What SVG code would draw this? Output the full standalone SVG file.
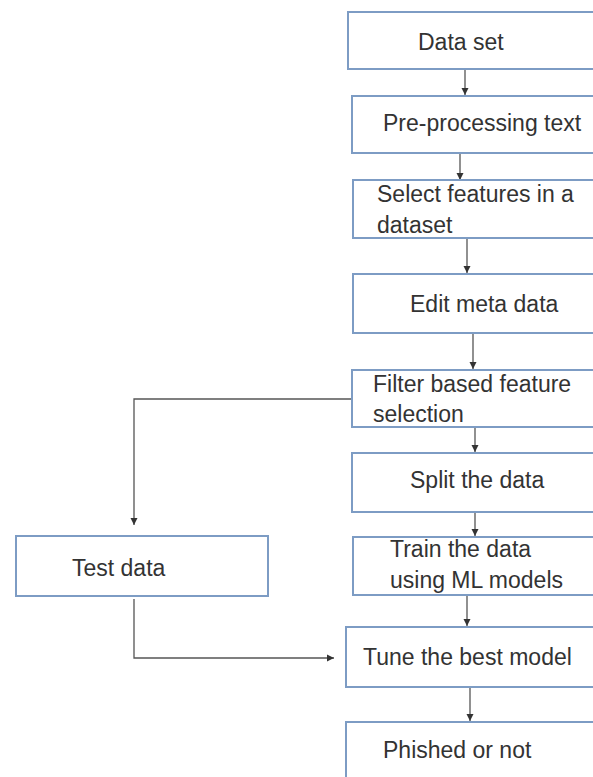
<svg xmlns="http://www.w3.org/2000/svg" width="593" height="777" viewBox="0 0 593 777">
<defs>
<marker id="ah" markerWidth="8" markerHeight="8" refX="7" refY="4" orient="auto" markerUnits="userSpaceOnUse">
<path d="M0,0.5 L7,4 L0,7.5 Z" fill="#333"/>
</marker>
</defs>
<style>
.box{fill:#fff;stroke:#7d9cc4;stroke-width:2}
.t{font-family:"Liberation Sans",Arial,sans-serif;font-size:23px;fill:#333}
.c{fill:none;stroke:#555;stroke-width:1.3;marker-end:url(#ah)}
</style>
<rect width="593" height="777" fill="#fff"/>
<g id="connectors">
<path class="c" d="M465,69 V95"/>
<path class="c" d="M460,153 V180"/>
<path class="c" d="M467,238 V273"/>
<path class="c" d="M473,333 V369"/>
<path class="c" d="M475,427 V452"/>
<path class="c" d="M475,512 V536"/>
<path class="c" d="M467,595 V626"/>
<path class="c" d="M470,687 V721"/>
<path class="c" d="M352,399 H134 V525"/>
<path class="c" d="M134,599 V658 H334"/>
</g>
<g id="n1"><rect class="box" x="348" y="12" width="260" height="57"/><text class="t" x="418" y="50">Data set</text></g>
<g id="n2"><rect class="box" x="352" y="96" width="256" height="57"/><text class="t" x="383" y="131">Pre-processing text</text></g>
<g id="n3"><rect class="box" x="353" y="180" width="255" height="58"/><text class="t" x="377" y="202">Select features in a</text><text class="t" x="377" y="233">dataset</text></g>
<g id="n4"><rect class="box" x="353" y="274" width="255" height="59"/><text class="t" x="410" y="312">Edit meta data</text></g>
<g id="n5"><rect class="box" x="352" y="370" width="256" height="57"/><text class="t" x="373" y="392">Filter based feature</text><text class="t" x="373" y="422">selection</text></g>
<g id="n6"><rect class="box" x="352" y="453" width="256" height="59"/><text class="t" x="410" y="488">Split the data</text></g>
<g id="n7"><rect class="box" x="353" y="537" width="255" height="58"/><text class="t" x="390" y="557">Train the data</text><text class="t" x="390" y="588">using ML models</text></g>
<g id="n8"><rect class="box" x="346" y="627" width="262" height="60"/><text class="t" x="363" y="665">Tune the best model</text></g>
<g id="n9"><rect class="box" x="346" y="722" width="262" height="80"/><text class="t" x="383" y="758">Phished or not</text></g>
<g id="n10"><rect class="box" x="16" y="536" width="252" height="60"/><text class="t" x="72" y="576">Test data</text></g>
</svg>
